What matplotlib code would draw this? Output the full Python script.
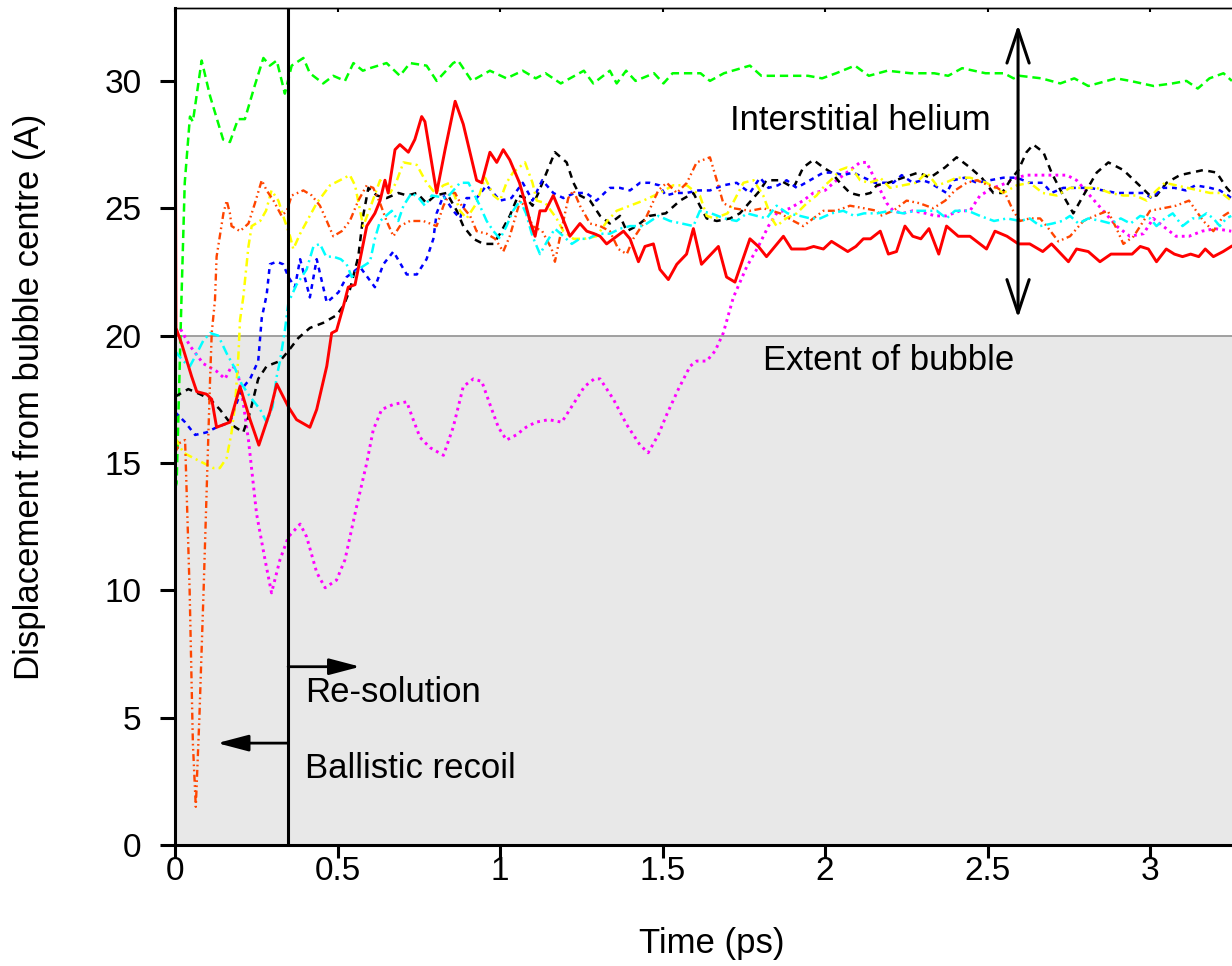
#!/usr/bin/env python3
import matplotlib
matplotlib.use("Agg")
import matplotlib.pyplot as plt

plt.rcParams['font.family'] = ['Liberation Sans', 'DejaVu Sans']
plt.rcParams['lines.scale_dashes'] = False

# helium displacement traces, time (ps) vs distance (A)
t_green = [0.0, 0.005, 0.02, 0.03, 0.046, 0.055, 0.082, 0.108, 0.148, 0.169, 0.194, 0.215, 0.245,
           0.272, 0.292, 0.313, 0.338, 0.359, 0.395, 0.415, 0.456, 0.487, 0.523, 0.549, 0.578, 0.6,
           0.651, 0.692, 0.723, 0.774, 0.805, 0.856, 0.871, 0.913, 0.969, 1.02, 1.07, 1.11, 1.14,
           1.187, 1.258, 1.287, 1.338, 1.359, 1.388, 1.417, 1.474, 1.503, 1.531, 1.617, 1.646, 1.689,
           1.769, 1.804, 1.948, 1.991, 2.034, 2.092, 2.135, 2.192, 2.264, 2.336, 2.379, 2.422, 2.494,
           2.551, 2.58, 2.599, 2.666, 2.724, 2.767, 2.81, 2.867, 2.896, 2.939, 3.011, 3.069, 3.112,
           3.147, 3.183, 3.226, 3.252]
v_green = [14.0, 14.2, 21.5, 26.0, 28.6, 28.4, 30.8, 29.4, 27.7, 27.6, 28.5, 28.5, 29.8,
           30.9, 30.6, 30.8, 29.5, 30.6, 30.9, 30.3, 29.9, 30.2, 30.0, 30.7, 30.4, 30.5,
           30.7, 30.2, 30.7, 30.6, 30.0, 30.7, 30.8, 30.0, 30.4, 30.1, 30.4, 30.1, 30.3,
           29.9, 30.4, 29.9, 30.4, 29.9, 30.4, 30.0, 30.3, 29.9, 30.3, 30.3, 30.0, 30.3,
           30.6, 30.2, 30.2, 30.1, 30.3, 30.6, 30.2, 30.4, 30.3, 30.3, 30.2, 30.5, 30.3,
           30.3, 30.1, 30.2, 30.1, 29.9, 30.1, 29.8, 30.0, 30.1, 30.0, 29.8, 29.9, 30.0,
           29.7, 30.1, 30.3, 30.0]

t_red = [0.0, 0.003, 0.02, 0.051, 0.067, 0.097, 0.113, 0.128, 0.169, 0.2, 0.231, 0.258, 0.292,
         0.313, 0.349, 0.374, 0.415, 0.436, 0.467, 0.482, 0.497, 0.517, 0.533, 0.554, 0.59, 0.615,
         0.631, 0.646, 0.656, 0.677, 0.692, 0.718, 0.738, 0.759, 0.769, 0.805, 0.831, 0.862, 0.887,
         0.928, 0.944, 0.969, 0.99, 1.01, 1.03, 1.06, 1.08, 1.092, 1.108, 1.123, 1.14, 1.164, 1.19,
         1.215, 1.246, 1.267, 1.29, 1.308, 1.328, 1.38, 1.4, 1.426, 1.446, 1.472, 1.492, 1.518,
         1.544, 1.574, 1.595, 1.62, 1.672, 1.697, 1.723, 1.769, 1.795, 1.82, 1.872, 1.897, 1.94,
         1.965, 1.995, 2.02, 2.045, 2.07, 2.095, 2.118, 2.14, 2.17, 2.195, 2.22, 2.246, 2.27, 2.295,
         2.32, 2.35, 2.374, 2.41, 2.446, 2.497, 2.523, 2.56, 2.595, 2.63, 2.67, 2.697, 2.749, 2.774,
         2.81, 2.846, 2.88, 2.918, 2.945, 2.97, 2.995, 3.02, 3.05, 3.075, 3.1, 3.125, 3.15, 3.17,
         3.195, 3.225, 3.25]
v_red = [35.0, 20.3, 19.7, 18.4, 17.8, 17.7, 17.5, 16.4, 16.6, 18.0, 16.7, 15.7, 17.0,
         18.1, 17.2, 16.7, 16.4, 17.1, 18.8, 20.1, 20.2, 21.1, 21.9, 22.0, 24.3, 24.8,
         25.3, 26.1, 25.6, 27.3, 27.5, 27.2, 27.7, 28.6, 28.4, 25.6, 27.3, 29.2, 28.3,
         26.1, 26.0, 27.2, 26.8, 27.3, 26.9, 26.0, 25.1, 24.5, 23.9, 24.9, 24.9, 25.5, 24.7,
         23.9, 24.4, 24.1, 24.0, 23.9, 23.6, 24.1, 23.8, 22.9, 23.5, 23.6, 22.6, 22.2,
         22.8, 23.2, 24.2, 22.8, 23.5, 22.3, 22.1, 23.8, 23.5, 23.1, 23.9, 23.4, 23.4,
         23.5, 23.4, 23.7, 23.5, 23.3, 23.5, 23.8, 23.8, 24.1, 23.2, 23.3, 24.3, 23.9, 23.8,
         24.2, 23.2, 24.3, 23.9, 23.9, 23.4, 24.1, 23.9, 23.6, 23.6, 23.3, 23.6, 22.9, 23.4,
         23.3, 22.9, 23.2, 23.2, 23.2, 23.5, 23.4, 22.9, 23.4, 23.2, 23.1, 23.2, 23.1, 23.4,
         23.1, 23.3, 23.5]

t_magenta = [0.0, 0.015, 0.046, 0.087, 0.128, 0.154, 0.174, 0.19, 0.205, 0.226, 0.251, 0.277,
             0.297, 0.323, 0.349, 0.385, 0.405, 0.436, 0.462, 0.497, 0.523, 0.559, 0.59, 0.61,
             0.636, 0.672, 0.713, 0.733, 0.754, 0.785, 0.826, 0.856, 0.887, 0.918, 0.944, 0.969,
             0.995, 1.02, 1.05, 1.08, 1.11, 1.15, 1.19, 1.22, 1.26, 1.29, 1.308, 1.349, 1.39,
             1.431, 1.456, 1.487, 1.513, 1.549, 1.585, 1.605, 1.636, 1.662, 1.687, 1.718, 1.759,
             1.795, 1.826, 1.851, 1.892, 1.933, 1.964, 2.0, 2.036, 2.067, 2.108, 2.128, 2.159,
             2.19, 2.21, 2.24, 2.27, 2.31, 2.34, 2.374, 2.415, 2.446, 2.477, 2.518, 2.56, 2.59,
             2.62, 2.672, 2.744, 2.774, 2.815, 2.856, 2.897, 2.938, 2.98, 3.01, 3.04, 3.08, 3.12,
             3.16, 3.2, 3.25]
v_magenta = [20.2, 20.3, 19.6, 18.9, 18.6, 18.3, 18.8, 18.7, 17.8, 15.9, 13.0, 11.2,
             9.9, 11.2, 12.1, 12.6, 12.1, 10.7, 10.1, 10.4, 11.2, 13.3, 15.0, 16.3,
             17.1, 17.3, 17.4, 16.7, 16.0, 15.6, 15.3, 16.4, 18.0, 18.3, 18.2, 17.3,
             16.4, 15.9, 16.1, 16.4, 16.6, 16.7, 16.6, 17.2, 18.0, 18.3, 18.3, 17.5, 16.5,
             15.7, 15.4, 16.1, 16.9, 17.9, 18.8, 19.0, 19.0, 19.4, 20.1, 21.5, 22.7,
             23.5, 24.3, 24.8, 25.0, 25.3, 25.6, 25.7, 26.1, 26.4, 26.8, 26.8, 26.0,
             25.2, 24.9, 24.8, 24.9, 24.8, 24.7, 24.7, 24.9, 24.9, 25.5, 25.8, 26.0, 26.2,
             26.3, 26.3, 26.3, 26.1, 25.5, 24.9, 24.3, 23.9, 24.0, 24.6, 24.3, 23.9, 23.9,
             24.1, 24.2, 24.1]

t_black = [0.0, 0.041, 0.077, 0.108, 0.138, 0.174, 0.21, 0.231, 0.256, 0.282, 0.323, 0.349,
           0.379, 0.415, 0.456, 0.497, 0.52, 0.538, 0.564, 0.579, 0.595, 0.621, 0.651, 0.687,
           0.715, 0.744, 0.774, 0.8, 0.836, 0.867, 0.887, 0.918, 0.949, 0.98, 1.0, 1.03, 1.056,
           1.08, 1.1, 1.118, 1.14, 1.169, 1.205, 1.226, 1.246, 1.277, 1.308, 1.338, 1.369, 1.39,
           1.42, 1.46, 1.51, 1.554, 1.595, 1.615, 1.636, 1.667, 1.708, 1.738, 1.759, 1.8, 1.82,
           1.862, 1.903, 1.933, 1.964, 1.995, 2.02, 2.046, 2.077, 2.108, 2.14, 2.159, 2.195, 2.24,
           2.287, 2.323, 2.369, 2.405, 2.446, 2.482, 2.518, 2.545, 2.57, 2.595, 2.62, 2.641, 2.672,
           2.697, 2.733, 2.764, 2.795, 2.836, 2.872, 2.918, 2.959, 3.0, 3.02, 3.051, 3.092, 3.164,
           3.205, 3.236, 3.25]
v_black = [17.6, 17.9, 17.7, 17.5, 17.1, 16.5, 16.2, 17.0, 18.3, 18.8, 19.0, 19.4,
           19.9, 20.3, 20.5, 20.8, 21.2, 21.8, 23.1, 24.7, 25.8, 25.5, 25.4, 25.6,
           25.5, 25.6, 25.2, 25.5, 25.6, 24.9, 24.3, 23.8, 23.6, 23.6, 24.0, 24.7, 25.5,
           25.4, 25.1, 25.6, 26.3, 27.2, 26.8, 26.0, 25.5, 25.3, 24.7, 24.4, 24.7, 24.1,
           24.3, 24.7, 24.8, 25.3, 25.6, 25.1, 24.6, 24.5, 24.6, 24.8, 25.1, 25.7, 26.1,
           26.1, 25.8, 26.6, 26.9, 26.6, 26.4, 26.0, 25.6, 25.5, 25.6, 25.9, 26.0, 26.2,
           26.4, 26.2, 26.6, 27.0, 26.6, 26.2, 25.6, 25.6, 26.1, 26.5, 27.2, 27.5, 27.2,
           26.4, 25.5, 24.8, 25.5, 26.4, 26.8, 26.5, 26.0, 25.5, 25.5, 26.0, 26.3, 26.5,
           26.4, 25.8, 25.6]

t_blue = [0.0, 0.031, 0.062, 0.097, 0.128, 0.169, 0.205, 0.231, 0.256, 0.267, 0.282, 0.292,
          0.313, 0.333, 0.349, 0.369, 0.385, 0.415, 0.436, 0.467, 0.503, 0.528, 0.569, 0.615,
          0.641, 0.672, 0.713, 0.744, 0.774, 0.795, 0.805, 0.826, 0.856, 0.877, 0.897, 0.928,
          0.959, 1.0, 1.035, 1.07, 1.1, 1.13, 1.164, 1.195, 1.23, 1.265, 1.297, 1.338, 1.369,
          1.4, 1.431, 1.46, 1.49, 1.51, 1.54, 1.574, 1.61, 1.646, 1.687, 1.728, 1.769, 1.8,
          1.826, 1.855, 1.882, 1.913, 1.954, 1.995, 2.026, 2.056, 2.087, 2.12, 2.154, 2.18, 2.21,
          2.236, 2.27, 2.3, 2.323, 2.374, 2.395, 2.43, 2.467, 2.508, 2.549, 2.59, 2.63, 2.67,
          2.697, 2.733, 2.774, 2.815, 2.856, 2.897, 2.949, 2.98, 3.005, 3.04, 3.075, 3.11, 3.14,
          3.185, 3.215, 3.24, 3.25]
v_blue = [17.0, 16.6, 16.1, 16.2, 16.4, 16.6, 17.9, 18.3, 19.0, 20.7, 21.6, 22.8,
          22.9, 22.8, 22.3, 21.9, 23.0, 21.5, 23.0, 21.3, 21.7, 22.3, 22.7, 21.9,
          22.8, 23.3, 22.4, 22.4, 23.0, 23.8, 24.8, 25.5, 24.9, 24.6, 25.4, 25.4,
          25.9, 25.3, 25.4, 26.0, 25.3, 26.1, 25.6, 25.4, 25.6, 25.6, 25.3, 25.8, 25.8,
          25.7, 26.0, 26.0, 25.9, 25.5, 25.6, 25.6, 25.7, 25.7, 25.9, 26.0, 25.6, 26.2,
          25.8, 25.9, 26.1, 25.8, 26.1, 26.4, 26.4, 26.3, 26.4, 26.2, 26.0, 26.0, 26.0,
          26.3, 26.0, 26.1, 26.0, 25.6, 26.1, 26.2, 26.0, 26.1, 26.2, 26.2, 26.0, 26.0,
          25.6, 25.8, 25.8, 25.8, 25.7, 25.6, 25.6, 25.6, 25.4, 25.8, 25.8, 25.7, 25.9,
          25.8, 25.7, 25.5, 25.4]

t_yellow = [0.0, 0.026, 0.056, 0.087, 0.118, 0.138, 0.159, 0.174, 0.185, 0.195, 0.2, 0.21,
            0.226, 0.236, 0.262, 0.28, 0.297, 0.318, 0.338, 0.354, 0.364, 0.385, 0.436, 0.477,
            0.538, 0.554, 0.579, 0.6, 0.631, 0.662, 0.68, 0.703, 0.744, 0.774, 0.8, 0.826, 0.846,
            0.877, 0.897, 0.928, 0.954, 0.98, 1.0, 1.02, 1.04, 1.077, 1.1, 1.113, 1.14, 1.174,
            1.195, 1.226, 1.26, 1.297, 1.33, 1.359, 1.4, 1.441, 1.492, 1.533, 1.575, 1.615, 1.636,
            1.66, 1.7, 1.749, 1.78, 1.81, 1.836, 1.851, 1.88, 1.913, 1.944, 1.974, 2.0, 2.026,
            2.046, 2.067, 2.087, 2.108, 2.135, 2.16, 2.17, 2.2, 2.24, 2.28, 2.313, 2.344, 2.37,
            2.405, 2.446, 2.497, 2.549, 2.59, 2.63, 2.67, 2.713, 2.754, 2.795, 2.836, 2.877,
            2.918, 2.955, 2.99, 3.02, 3.046, 3.08, 3.115, 3.15, 3.185, 3.22, 3.25]
v_yellow = [16.0, 15.4, 15.2, 15.0, 14.8, 14.8, 15.2, 16.2, 17.3, 19.2, 20.6, 21.5,
            23.5, 24.3, 24.5, 24.9, 25.7, 25.3, 24.5, 23.9, 23.4, 24.0, 25.2, 25.9,
            26.3, 25.9, 24.3, 25.0, 26.1, 25.6, 26.0, 26.8, 26.7, 26.0, 25.6, 25.9, 26.0,
            24.9, 24.6, 25.2, 26.2, 25.5, 25.3, 26.0, 26.4, 26.8, 26.0, 25.3, 25.2, 24.6,
            24.1, 23.8, 23.8, 23.9, 24.5, 24.9, 25.1, 25.3, 25.6, 25.9, 25.9, 25.5, 24.7,
            24.6, 24.8, 26.0, 26.1, 25.5, 24.6, 24.3, 24.6, 24.8, 25.2, 25.5, 25.9, 26.2,
            26.5, 26.6, 26.5, 26.1, 26.0, 26.1, 26.2, 25.8, 25.9, 26.0, 26.4, 25.9, 26.0,
            26.2, 26.2, 26.0, 25.6, 25.9, 26.0, 25.6, 25.5, 25.8, 25.8, 25.8, 25.6,
            25.5, 25.5, 25.3, 25.7, 26.0, 25.9, 25.8, 25.7, 25.6, 25.6, 25.3]

t_orange = [0.0, 0.016, 0.031, 0.045, 0.055, 0.064, 0.075, 0.088, 0.1, 0.108, 0.113, 0.123,
            0.128, 0.149, 0.159, 0.169, 0.174, 0.2, 0.226, 0.246, 0.267, 0.282, 0.303, 0.328,
            0.344, 0.359, 0.395, 0.421, 0.446, 0.467, 0.487, 0.513, 0.538, 0.564, 0.59, 0.61,
            0.631, 0.651, 0.672, 0.692, 0.723, 0.764, 0.805, 0.826, 0.846, 0.862, 0.882, 0.908,
            0.928, 0.959, 0.985, 1.01, 1.03, 1.062, 1.08, 1.1, 1.13, 1.159, 1.169, 1.19, 1.21,
            1.226, 1.246, 1.277, 1.308, 1.338, 1.364, 1.39, 1.41, 1.441, 1.487, 1.513, 1.544,
            1.575, 1.605, 1.646, 1.667, 1.687, 1.718, 1.769, 1.81, 1.862, 1.903, 1.933, 1.964,
            1.995, 2.035, 2.077, 2.12, 2.16, 2.17, 2.21, 2.251, 2.29, 2.333, 2.37, 2.4, 2.436,
            2.467, 2.503, 2.53, 2.554, 2.579, 2.6, 2.63, 2.662, 2.682, 2.718, 2.754, 2.795, 2.83,
            2.87, 2.897, 2.918, 2.95, 2.98, 3.0, 3.04, 3.08, 3.12, 3.164, 3.195, 3.226, 3.25]
v_orange = [15.4, 15.8, 15.9, 10.0, 4.0, 1.5, 5.0, 10.0, 15.0, 18.3, 20.1, 21.4,
            23.1, 24.8, 25.3, 24.8, 24.3, 24.1, 24.4, 25.2, 26.1, 25.7, 25.3, 24.7,
            24.9, 25.5, 25.7, 25.5, 25.1, 24.5, 23.9, 24.1, 24.5, 25.3, 25.9, 25.8,
            25.2, 24.5, 23.9, 24.3, 24.5, 24.5, 24.3, 25.1, 25.6, 25.6, 25.1, 24.7,
            24.1, 24.0, 23.8, 23.3, 23.9, 25.3, 25.0, 24.3, 24.1, 23.4, 22.9, 24.2, 25.4,
            25.7, 25.1, 24.4, 24.3, 24.1, 23.4, 23.2, 23.8, 24.4, 25.7, 26.0, 25.6,
            26.0, 26.8, 27.0, 26.1, 25.2, 25.0, 24.9, 25.0, 24.8, 24.5, 24.3, 24.6,
            24.9, 24.9, 25.1, 25.0, 24.9, 24.7, 24.9, 25.3, 25.2, 25.0, 25.3, 25.7, 26.0,
            26.1, 25.9, 25.8, 25.6, 24.9, 24.5, 24.6, 24.6, 24.3, 23.7, 23.9, 24.5, 24.7,
            24.9, 24.2, 23.6, 23.9, 24.5, 24.9, 25.0, 25.1, 25.3, 24.5, 24.1, 24.7, 24.9]

t_cyan = [0.0, 0.025, 0.046, 0.067, 0.087, 0.108, 0.133, 0.159, 0.185, 0.205, 0.231, 0.262,
          0.282, 0.3, 0.313, 0.323, 0.338, 0.349, 0.374, 0.405, 0.426, 0.446, 0.465, 0.487,
          0.51, 0.528, 0.544, 0.564, 0.6, 0.615, 0.631, 0.667, 0.687, 0.703, 0.728, 0.75, 0.769,
          0.79, 0.836, 0.877, 0.903, 0.938, 0.959, 0.98, 1.0, 1.02, 1.04, 1.062, 1.08, 1.1,
          1.123, 1.145, 1.169, 1.195, 1.221, 1.245, 1.272, 1.3, 1.338, 1.37, 1.4, 1.44, 1.487,
          1.523, 1.56, 1.595, 1.615, 1.65, 1.69, 1.728, 1.76, 1.79, 1.82, 1.851, 1.885, 1.923,
          1.955, 1.985, 2.02, 2.056, 2.09, 2.12, 2.16, 2.2, 2.24, 2.28, 2.31, 2.344, 2.374, 2.4,
          2.44, 2.477, 2.52, 2.56, 2.6, 2.63, 2.662, 2.7, 2.73, 2.754, 2.78, 2.81, 2.85, 2.88,
          2.91, 2.94, 2.97, 3.0, 3.02, 3.045, 3.07, 3.1, 3.13, 3.15, 3.174, 3.195, 3.215, 3.235,
          3.25]
v_cyan = [19.4, 19.0, 18.8, 19.3, 19.8, 20.1, 20.0, 19.3, 18.7, 18.1, 17.6, 17.1,
          16.6, 17.2, 18.4, 19.0, 20.2, 21.3, 22.0, 22.6, 23.5, 23.6, 23.1, 23.1,
          23.0, 22.8, 22.3, 22.6, 22.9, 23.8, 24.5, 24.9, 24.5, 25.1, 25.6, 25.4, 25.1,
          25.5, 25.4, 26.0, 26.0, 25.1, 24.5, 24.1, 23.8, 24.3, 24.9, 25.3, 24.8, 23.9,
          23.2, 23.7, 24.2, 23.9, 23.6, 23.8, 23.8, 24.0, 24.0, 24.2, 24.3, 24.3, 24.7,
          24.5, 24.4, 24.3, 24.9, 24.8, 24.6, 24.5, 24.8, 24.7, 24.6, 25.1, 24.8, 24.7,
          24.6, 24.6, 24.8, 24.9, 24.7, 24.8, 24.8, 24.9, 24.8, 24.9, 24.9, 24.9, 24.6, 24.9,
          24.9, 24.7, 24.5, 24.6, 24.5, 24.6, 24.3, 24.4, 24.5, 24.7, 24.4, 24.6, 24.5, 24.4,
          24.6, 24.4, 24.7, 24.6, 24.3, 24.6, 24.8, 24.3, 24.6, 24.6, 24.8, 24.6, 24.3, 24.6,
          24.7]

bubble_radius = 20.0
t_split = 0.348
x_ticks = [0, 0.5, 1, 1.5, 2, 2.5, 3]
y_ticks = [0, 5, 10, 15, 20, 25, 30]

fig = plt.figure(figsize=(12.32, 9.66), dpi=100)
ax = fig.add_axes([175 / 1232, 121 / 966, 1057 / 1232, 837 / 966])

ax.axhspan(0, bubble_radius, color='#e8e8e8', lw=0, zorder=0)
ax.axhline(bubble_radius, color='#999999', lw=1.3, zorder=1)

lw = 1.8
ax.plot(t_green, v_green, color='#00ff00', lw=lw, dashes=(6, 3.5))
ax.plot(t_magenta, v_magenta, color='#ff00ff', lw=2.1, dashes=(2, 3))
ax.plot(t_black, v_black, color='black', lw=lw, dashes=(5, 4))
ax.plot(t_blue, v_blue, color='#0000ff', lw=lw, dashes=(3.5, 3.5))
ax.plot(t_yellow, v_yellow, color='#ffff00', lw=lw, dashes=(6, 3, 1.5, 3))
ax.plot(t_orange, v_orange, color='#ff4500', lw=1.7, dashes=(5, 2.5, 1.2, 2.5, 1.2, 2.5))
ax.plot(t_cyan, v_cyan, color='#00ffff', lw=lw, dashes=(7, 3, 1.5, 3))
ax.plot(t_red, v_red, color='#ff0000', lw=2.1)

ax.axvline(t_split, color='black', lw=2.2, zorder=3)

ax.set_xlim(0, 1057 / 325)
ax.set_ylim(0, 837 / 25.47)
ax.set_xticks(x_ticks)
ax.set_xticklabels(['0', '0.5', '1', '1.5', '2', '2.5', '3'])
ax.set_yticks(y_ticks)

ax.spines['right'].set_visible(False)
ax.spines['left'].set_linewidth(2.2)
ax.spines['bottom'].set_linewidth(2.2)
ax.spines['top'].set_linewidth(1.0)
ax.tick_params(axis='both', direction='out', width=2.2, labelsize=24)
ax.tick_params(axis='x', length=9, pad=-1)
ax.tick_params(axis='y', length=11, pad=13)

top = ax.secondary_xaxis('top')
top.set_xticks(x_ticks)
top.tick_params(direction='in', length=3, width=1.5, labeltop=False)
top.spines['top'].set_linewidth(1.0)

ax.set_xlabel('Time (ps)', fontsize=25)
ax.xaxis.set_label_coords(0.508, -0.098)
fig.text(30 / 1232, 1 - 397 / 966, 'Displacement from bubble centre (A)',
         fontsize=25, rotation=90, ha='center', va='center')

# annotations
ax.annotate('', xy=(2.594, 32.2), xytext=(2.594, 20.7),
            arrowprops=dict(arrowstyle='<->,head_length=1.2,head_width=0.4',
                            lw=2.2, color='black', shrinkA=0, shrinkB=0,
                            mutation_scale=20))
ax.text(2.11, 28.43, 'Interstitial helium', fontsize=25, ha='center', va='center')
ax.text(2.197, 19.04, 'Extent of bubble', fontsize=25, ha='center', va='center')

ax.annotate('', xy=(0.57, 7.0), xytext=(t_split, 7.0),
            arrowprops=dict(arrowstyle='-|>,head_length=0.95,head_width=0.25',
                            lw=2.0, color='black', shrinkA=0, shrinkB=0,
                            mutation_scale=20))
ax.text(0.4, 6.0, 'Re-solution', fontsize=25, ha='left', va='center')

ax.annotate('', xy=(0.13, 4.0), xytext=(t_split, 4.0),
            arrowprops=dict(arrowstyle='-|>,head_length=0.95,head_width=0.25',
                            lw=2.0, color='black', shrinkA=0, shrinkB=0,
                            mutation_scale=20))
ax.text(0.4, 3.0, 'Ballistic recoil', fontsize=25, ha='left', va='center')

fig.savefig('out.png', dpi=100)
